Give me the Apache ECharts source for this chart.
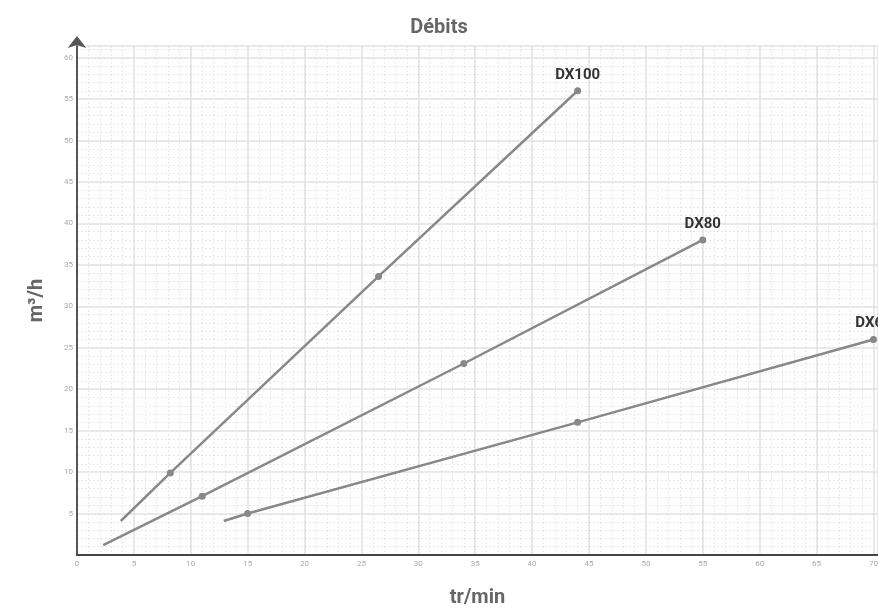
<!DOCTYPE html>
<html><head><meta charset="utf-8">
<script src="https://cdn.jsdelivr.net/npm/echarts@6/dist/echarts.min.js"></script>
<style>html,body{margin:0;padding:0;background:#fff}#c{width:878px;height:612px}</style>
</head><body><div id="c"></div>
<script>
const title = 'Débits';
const xName = 'tr/min';
const yName = 'm³/h';
const seriesNames = ['DX100', 'DX80', 'DX60'];
const dx100 = [[3.85, 4.1], [8.2, 9.9], [26.5, 33.6], [44, 56]];
const dx80 = [[2.3, 1.2], [11, 7.1], [34, 23.1], [55, 38]];
const dx60 = [[12.9, 4.1], [15, 5], [44, 16], [70, 26]];
const allData = [dx100, dx80, dx60];

const FONT = 'Roboto';
const chart = echarts.init(document.getElementById('c'));

function build(name, data) {
  return {
    type: 'line', name: name,
    data: data.map((p, i) => {
      const item = { value: p };
      if (i === 0) item.symbol = 'none';
      if (i === data.length - 1) {
        item.label = { show: true, formatter: name, position: 'top', distance: 5,
          color: '#333', fontWeight: 'bold', fontSize: 15, fontFamily: FONT };
      }
      return item;
    }),
    symbol: 'circle', symbolSize: 7,
    lineStyle: { color: '#888', width: 2.5 },
    itemStyle: { color: '#888' },
    label: { show: false },
    animation: false, z: 5
  };
}

chart.setOption({
  backgroundColor: '#fff',
  animation: false,
  title: { text: title, left: 'center', top: 13, textStyle: { fontFamily: FONT, fontWeight: 'bold', fontSize: 20, color: '#666' } },
  grid: { left: 77, right: 0, top: 46, bottom: 57, outerBoundsMode: 'none', containLabel: false },
  xAxis: {
    type: 'value', min: 0, max: 70.4, interval: 5,
    name: xName, nameLocation: 'middle', nameGap: 33,
    nameTextStyle: { fontFamily: FONT, fontWeight: 'bold', fontSize: 20, color: '#666' },
    axisLine: { show: true, lineStyle: { color: '#444', width: 2 } },
    axisTick: { show: false },
    axisLabel: { showMaxLabel: false, color: '#aaa', fontSize: 8, fontFamily: FONT, margin: 5 },
    splitLine: { show: true, lineStyle: { color: '#e2e2e2', width: 1.5 } },
    minorTick: { show: false, splitNumber: 5 },
    minorSplitLine: { show: true, lineStyle: { color: '#e8e8e8', width: 1, type: [2, 2] } }
  },
  yAxis: {
    type: 'value', min: 0, max: 61.4, interval: 5,
    name: yName, nameLocation: 'middle', nameGap: 30, nameRotate: 90,
    nameTextStyle: { fontFamily: FONT, fontWeight: 'bold', fontSize: 20, color: '#666' },
    axisLine: { show: true, lineStyle: { color: '#555', width: 2 }, symbol: ['none', 'arrow'], symbolSize: [14, 12], symbolOffset: [0, 10] },
    axisTick: { show: false },
    axisLabel: { showMaxLabel: false, showMinLabel: false, color: '#aaa', fontSize: 8, fontFamily: FONT, margin: 4 },
    splitLine: { show: true, lineStyle: { color: '#e2e2e2', width: 1.5 } },
    minorTick: { show: false, splitNumber: 5 },
    minorSplitLine: { show: true, lineStyle: { color: '#e8e8e8', width: 1, type: [2, 2] } }
  },
  series: seriesNames.map((n, i) => build(n, allData[i]))
});
</script></body></html>
